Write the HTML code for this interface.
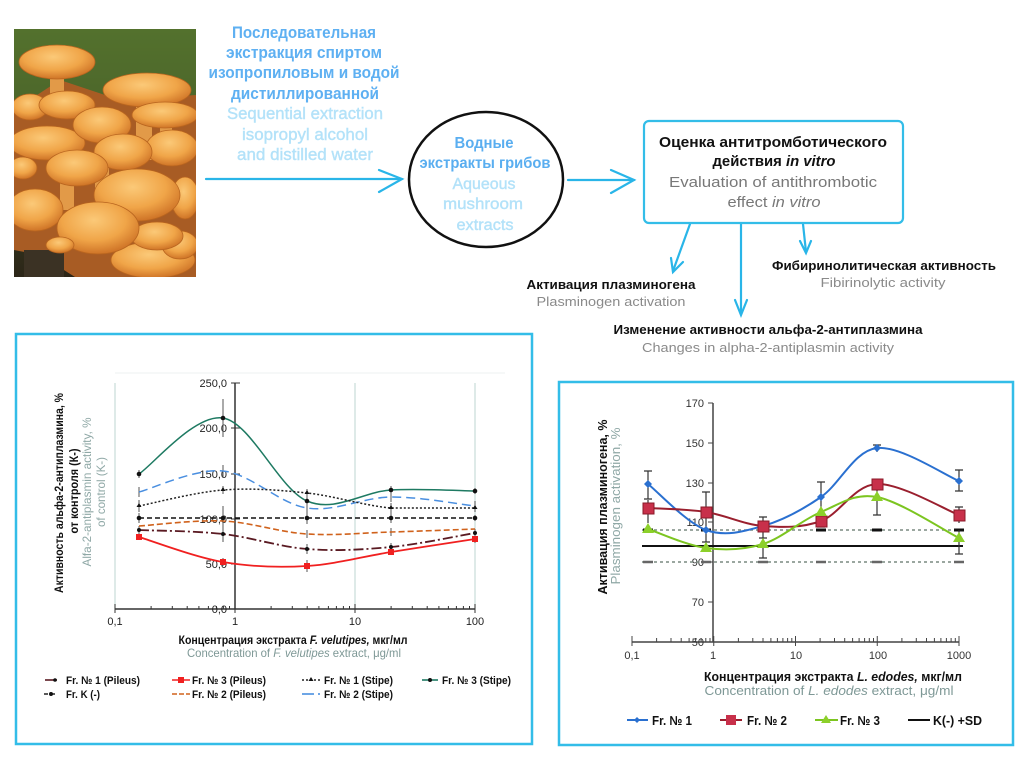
<!DOCTYPE html>
<html><head><meta charset="utf-8"><style>
html,body{margin:0;padding:0;background:#fff;}
body{width:1028px;height:767px;overflow:hidden;}
svg{display:block;}
text{font-family:"Liberation Sans","Noto Sans CJK SC",sans-serif;}
.ser{font-family:"Liberation Serif",serif;}
</style></head><body>
<svg width="1028" height="767" viewBox="0 0 1028 767" xmlns="http://www.w3.org/2000/svg">
<defs>
<radialGradient id="cap" cx="45%" cy="35%" r="65%">
<stop offset="0" stop-color="#fbc978"/><stop offset="0.6" stop-color="#f0a548"/><stop offset="1" stop-color="#cf7427"/>
</radialGradient>
<linearGradient id="bg" x1="0" y1="0" x2="0" y2="1">
<stop offset="0" stop-color="#4f6c2c"/><stop offset="0.35" stop-color="#3d4f24"/><stop offset="1" stop-color="#2c2618"/>
</linearGradient>
<clipPath id="ph"><rect x="14" y="29" width="182" height="248"/></clipPath>
</defs>

<!-- Photo -->
<g clip-path="url(#ph)">
<rect x="14" y="29" width="182" height="248" fill="url(#bg)"/>
<rect x="14" y="29" width="182" height="80" fill="#56752e" opacity="0.6"/>
<path d="M14 110 L60 80 L120 100 L196 95 L196 277 L75 277 L40 255 L14 250 Z" fill="#a85c24"/>
<rect x="24" y="250" width="40" height="27" fill="#3b3224"/>
<g fill="#e29a48">
<rect x="50" y="70" width="14" height="40"/><rect x="136" y="100" width="16" height="60"/>
<rect x="60" y="170" width="14" height="40"/><rect x="95" y="160" width="14" height="50"/><rect x="160" y="120" width="12" height="40"/>
</g>
<g fill="url(#cap)" stroke="#b8651f" stroke-width="0.8">
<ellipse cx="57" cy="62" rx="38" ry="17"/>
<ellipse cx="147" cy="90" rx="44" ry="17"/>
<ellipse cx="30" cy="107" rx="18" ry="13"/>
<ellipse cx="67" cy="105" rx="28" ry="14"/>
<ellipse cx="165" cy="115" rx="33" ry="13"/>
<ellipse cx="23" cy="168" rx="14" ry="11"/>
<ellipse cx="47" cy="143" rx="38" ry="17"/>
<ellipse cx="102" cy="125" rx="29" ry="18"/>
<ellipse cx="172" cy="148" rx="26" ry="18"/>
<ellipse cx="123" cy="152" rx="29" ry="18"/>
<ellipse cx="77" cy="168" rx="31" ry="18"/>
<ellipse cx="185" cy="198" rx="14" ry="21"/>
<ellipse cx="35" cy="210" rx="28" ry="21"/>
<ellipse cx="153" cy="260" rx="42" ry="18"/>
<ellipse cx="180" cy="245" rx="18" ry="14"/>
<ellipse cx="137" cy="195" rx="43" ry="26"/>
<ellipse cx="157" cy="236" rx="26" ry="14"/>
<ellipse cx="98" cy="228" rx="41" ry="26"/>
<ellipse cx="60" cy="245" rx="14" ry="8"/>
</g>
</g>

<!-- Top flow text -->
<g font-weight="bold" font-size="17" fill="#5eb0f2" text-anchor="middle">
<text x="304" y="38" textLength="144" lengthAdjust="spacingAndGlyphs">Последовательная</text>
<text x="304" y="58" textLength="156" lengthAdjust="spacingAndGlyphs">экстракция спиртом</text>
<text x="304" y="78" textLength="191" lengthAdjust="spacingAndGlyphs">изопропиловым и водой</text>
<text x="305" y="99" textLength="148" lengthAdjust="spacingAndGlyphs">дистиллированной</text>
</g>
<g font-size="17" fill="#b3e2f9" text-anchor="middle" stroke="#b3e2f9" stroke-width="0.4">
<text x="305" y="119" textLength="156" lengthAdjust="spacingAndGlyphs">Sequential extraction</text>
<text x="305" y="140" textLength="126" lengthAdjust="spacingAndGlyphs">isopropyl alcohol</text>
<text x="305" y="160" textLength="136" lengthAdjust="spacingAndGlyphs">and distilled water</text>
</g>

<!-- arrows -->
<g stroke="#29b5e8" stroke-width="2.2" fill="none" stroke-linecap="round">
<line x1="206" y1="179" x2="402" y2="179"/>
<polyline points="379,170 402,179 379,192"/>
<line x1="568" y1="180" x2="634" y2="180"/>
<polyline points="611,170 634,180 611,193"/>
<line x1="690" y1="224" x2="673" y2="271"/>
<polyline points="671,258 673,272 683,262"/>
<line x1="741" y1="224" x2="741" y2="314"/>
<polyline points="735,300 741,315 747,300"/>
<line x1="803" y1="224" x2="806" y2="252"/>
<polyline points="800,241 806,253 811,241"/>
</g>

<!-- ellipse -->
<ellipse cx="486" cy="179.5" rx="77" ry="67.5" fill="none" stroke="#111" stroke-width="2.5"/>
<g font-weight="bold" font-size="16" fill="#5aaef0" text-anchor="middle">
<text x="484" y="148" textLength="59" lengthAdjust="spacingAndGlyphs">Водные</text>
<text x="485" y="168" textLength="131" lengthAdjust="spacingAndGlyphs">экстракты грибов</text>
</g>
<g font-size="16" fill="#b3e2f9" text-anchor="middle" stroke="#b3e2f9" stroke-width="0.4">
<text x="484" y="189" textLength="63" lengthAdjust="spacingAndGlyphs">Aqueous</text>
<text x="483" y="209" textLength="80" lengthAdjust="spacingAndGlyphs">mushroom</text>
<text x="485" y="230" textLength="57" lengthAdjust="spacingAndGlyphs">extracts</text>
</g>

<!-- box -->
<rect x="644" y="121" width="259" height="102" rx="5" fill="none" stroke="#33bde8" stroke-width="2.2"/>
<g font-size="15" text-anchor="middle">
<text x="773" y="147" font-weight="bold" fill="#111" textLength="228" lengthAdjust="spacingAndGlyphs">Оценка антитромботического</text>
<text x="774" y="166" font-weight="bold" fill="#111" textLength="123" lengthAdjust="spacingAndGlyphs">действия <tspan font-style="italic">in vitro</tspan></text>
<text x="773" y="187" fill="#787878" textLength="208" lengthAdjust="spacingAndGlyphs">Evaluation of antithrombotic</text>
<text x="774" y="207" fill="#787878" textLength="93" lengthAdjust="spacingAndGlyphs">effect <tspan font-style="italic">in vitro</tspan></text>
</g>

<g font-size="13" text-anchor="middle">
<text x="884" y="270" font-weight="bold" fill="#111" textLength="224" lengthAdjust="spacingAndGlyphs">Фибиринолитическая активность</text>
<text x="883" y="287" fill="#8a8a8a" textLength="125" lengthAdjust="spacingAndGlyphs">Fibirinolytic activity</text>
<text x="611" y="289" font-weight="bold" fill="#111" textLength="169" lengthAdjust="spacingAndGlyphs">Активация плазминогена</text>
<text x="611" y="306" fill="#8a8a8a" textLength="149" lengthAdjust="spacingAndGlyphs">Plasminogen activation</text>
<text x="768" y="334" font-weight="bold" fill="#111" textLength="309" lengthAdjust="spacingAndGlyphs">Изменение активности альфа-2-антиплазмина</text>
<text x="768" y="352" fill="#8a8a8a" textLength="252" lengthAdjust="spacingAndGlyphs">Changes in alpha-2-antiplasmin activity</text>
</g>

<!-- ============ LEFT CHART ============ -->
<rect x="16" y="334" width="516" height="410" fill="none" stroke="#33bde8" stroke-width="2.5"/>
<line x1="115" y1="373" x2="505" y2="373" stroke="#eef2f2" stroke-width="1"/>
<g stroke="#c9dcd8" stroke-width="1.2">
<line x1="115" y1="383" x2="115" y2="609"/>
<line x1="355" y1="383" x2="355" y2="609"/>
<line x1="475" y1="383" x2="475" y2="609"/>
</g>
<!-- axes -->
<g stroke="#333" stroke-width="1.5">
<line x1="115" y1="609" x2="475" y2="609"/>
<line x1="235" y1="383" x2="235" y2="609"/>
</g>
<g stroke="#333" stroke-width="1">
<line x1="231" y1="383" x2="240" y2="383"/><line x1="231" y1="428" x2="240" y2="428"/><line x1="231" y1="474" x2="240" y2="474"/>
<line x1="231" y1="519" x2="240" y2="519"/><line x1="231" y1="564" x2="240" y2="564"/>
<line x1="115" y1="604" x2="115" y2="613"/><line x1="235" y1="604" x2="235" y2="613"/><line x1="355" y1="604" x2="355" y2="613"/><line x1="475" y1="604" x2="475" y2="613"/>
<path d="M151.1 606V609M172.3 606V609M187.2 606V609M198.9 606V609M208.4 606V609M216.4 606V609M223.4 606V609M229.5 606V609
M271.1 606V609M292.3 606V609M307.2 606V609M318.9 606V609M328.4 606V609M336.4 606V609M343.4 606V609M349.5 606V609
M391.1 606V609M412.3 606V609M427.2 606V609M438.9 606V609M448.4 606V609M456.4 606V609M463.4 606V609M469.5 606V609"/>
</g>
<g class="ser" font-size="11" fill="#222" text-anchor="end">
<text x="227" y="387">250,0</text><text x="227" y="432">200,0</text><text x="227" y="478">150,0</text>
<text x="227" y="523">100,0</text><text x="227" y="568">50,0</text><text x="227" y="613">0,0</text>
</g>
<g class="ser" font-size="11" fill="#222" text-anchor="middle">
<text x="115" y="625">0,1</text><text x="235" y="625">1</text><text x="355" y="625">10</text><text x="475" y="625">100</text>
</g>

<!-- error bars left -->
<g stroke="#555" stroke-width="1">
<path d="M139 470V478M223 399V437M307 494V508M391 486V494M475 488V494
M139 487V497M223 465V477M307 502V514M391 492V502M475 501V511
M139 500V512M223 486V494M307 489V497M391 503V513M475 504V512
M139 513V523M223 506V530M307 512V524M391 513V523M475 515V521
M223 516V526M307 530V538M391 528V536
M139 526V534M223 526V542M307 544V554M391 543V551M475 529V537
M139 534V540M223 558V566M307 560V572M391 549V555M475 535V543"/>
</g>

<!-- series left -->
<g fill="none">
<path d="M139 474C153 464.7 195 413.5 223 418C251 422.5 279 489 307 501C335 513 363 491.7 391 490C419 488.3 461 490.8 475 491" stroke="#1e7a62" stroke-width="1.5"/>
<path d="M139 492C153 488.5 195 468.3 223 471C251 473.7 279 503.7 307 508C335 512.3 363 497.3 391 497C419 496.7 461 504.5 475 506" stroke="#4a8fe0" stroke-width="1.5" stroke-dasharray="9,5"/>
<path d="M139 506C153 503.3 195 492.2 223 490C251 487.8 279 490 307 493C335 496 363 505.5 391 508C419 508 461 508 475 508" stroke="#222" stroke-width="1.5" stroke-dasharray="2,2"/>
<line x1="139" y1="518" x2="475" y2="518" stroke="#111" stroke-width="1.6" stroke-dasharray="5,3"/>
<path d="M139 526C153 525.2 195 519.7 223 521C251 522.3 279 532.2 307 534C335 535.8 363 532.8 391 532C419 531.2 461 529.5 475 529" stroke="#d0621c" stroke-width="1.6" stroke-dasharray="6,3"/>
<path d="M139 530C153 530.7 195 530.8 223 534C251 537.2 279 546.8 307 549C335 551.2 363 549.7 391 547C419 544.3 461 535.3 475 533" stroke="#5a1a22" stroke-width="1.8" stroke-dasharray="10,3,2,3"/>
<path d="M139 537C153 541.2 195 557.2 223 562C251 566.8 279 567.7 307 566C335 564.3 363 556.5 391 552C419 547.5 461 541.2 475 539" stroke="#f02020" stroke-width="1.8"/>
</g>
<g fill="#111">
<circle cx="139" cy="474" r="2.3"/><circle cx="223" cy="418" r="2.3"/><circle cx="307" cy="501" r="2.3"/><circle cx="391" cy="490" r="2.3"/><circle cx="475" cy="491" r="2.3"/>
<path d="M139 503l2.5 4h-5zM223 487l2.5 4h-5zM307 490l2.5 4h-5zM391 505l2.5 4h-5zM475 505l2.5 4h-5z"/>
<circle cx="139" cy="518" r="2.3"/><circle cx="223" cy="518" r="2.3"/><circle cx="307" cy="518" r="2.3"/><circle cx="391" cy="518" r="2.3"/><circle cx="475" cy="518" r="2.3"/>
<circle cx="139" cy="530" r="2"/><circle cx="223" cy="534" r="2"/><circle cx="307" cy="549" r="2"/><circle cx="391" cy="547" r="2"/><circle cx="475" cy="533" r="2"/>
</g>
<g fill="#f02020">
<rect x="136" y="534" width="6" height="6"/><rect x="220" y="559" width="6" height="6"/><rect x="304" y="563" width="6" height="6"/><rect x="388" y="549" width="6" height="6"/><rect x="472" y="536" width="6" height="6"/>
</g>

<!-- left titles -->
<g font-weight="bold" font-size="12" fill="#111" text-anchor="middle">
<text transform="translate(63,493) rotate(-90)" textLength="200" lengthAdjust="spacingAndGlyphs">Активность альфа-2-антиплазмина, %</text>
<text transform="translate(78,491) rotate(-90)" textLength="85" lengthAdjust="spacingAndGlyphs">от контроля (К-)</text>
</g>
<g font-size="12" fill="#8fa8a6" text-anchor="middle">
<text transform="translate(91,492) rotate(-90)" textLength="149" lengthAdjust="spacingAndGlyphs">Alfa-2-antiplasmin activity, %</text>
<text transform="translate(105,492) rotate(-90)" textLength="70" lengthAdjust="spacingAndGlyphs">of control (K-)</text>
</g>
<text x="293" y="644" font-weight="bold" font-size="12" fill="#111" text-anchor="middle" textLength="229" lengthAdjust="spacingAndGlyphs">Концентрация экстракта <tspan font-style="italic">F. velutipes,</tspan> мкг/мл</text>
<text x="294" y="657" font-size="12" fill="#7e9896" text-anchor="middle" textLength="214" lengthAdjust="spacingAndGlyphs">Concentration of <tspan font-style="italic">F. velutipes</tspan> extract, μg/ml</text>

<!-- left legend -->
<g fill="none" stroke-width="1.6">
<line x1="45" y1="680" x2="57" y2="680" stroke="#5a1a22"/>
<line x1="172" y1="680" x2="190" y2="680" stroke="#f02020"/>
<line x1="302" y1="680" x2="320" y2="680" stroke="#222" stroke-dasharray="2,2"/>
<line x1="422" y1="680" x2="438" y2="680" stroke="#1e7a62"/>
<line x1="44" y1="694" x2="58" y2="694" stroke="#222" stroke-dasharray="4,3"/>
<line x1="172" y1="694" x2="190" y2="694" stroke="#d0621c" stroke-dasharray="5,2"/>
<line x1="302" y1="694" x2="314" y2="694" stroke="#4a8fe0"/>
<line x1="318" y1="694" x2="320" y2="694" stroke="#4a8fe0"/>
</g>
<circle cx="55" cy="680" r="1.8" fill="#111"/>
<rect x="178" y="677" width="6" height="6" fill="#f02020"/>
<path d="M311 677l2.5 4h-5z" fill="#111"/>
<circle cx="430" cy="680" r="2" fill="#111"/>
<circle cx="51" cy="694" r="2" fill="#111"/>
<g font-weight="bold" font-size="11" fill="#111">
<text x="66" y="684" textLength="74" lengthAdjust="spacingAndGlyphs">Fr. № 1 (Pileus)</text>
<text x="192" y="684" textLength="74" lengthAdjust="spacingAndGlyphs">Fr. № 3 (Pileus)</text>
<text x="324" y="684" textLength="69" lengthAdjust="spacingAndGlyphs">Fr. № 1 (Stipe)</text>
<text x="442" y="684" textLength="69" lengthAdjust="spacingAndGlyphs">Fr. № 3 (Stipe)</text>
<text x="66" y="698" textLength="34" lengthAdjust="spacingAndGlyphs">Fr. K (-)</text>
<text x="192" y="698" textLength="74" lengthAdjust="spacingAndGlyphs">Fr. № 2 (Pileus)</text>
<text x="324" y="698" textLength="69" lengthAdjust="spacingAndGlyphs">Fr. № 2 (Stipe)</text>
</g>

<!-- ============ RIGHT CHART ============ -->
<rect x="559" y="382" width="454" height="363" fill="none" stroke="#33bde8" stroke-width="2.5"/>
<g stroke="#444" stroke-width="1.5">
<line x1="632" y1="642" x2="959" y2="642"/>
<line x1="713" y1="403" x2="713" y2="642"/>
</g>
<g stroke="#444" stroke-width="1">
<path d="M708 403H713M708 443H713M708 483H713M708 522H713M708 562H713M708 602H713M708 642H713"/>
<path d="M632 636V646M713.75 636V646M795.5 636V646M877.25 636V646M959 636V646"/>
<path d="M656.6 638V642M671 638V642M681.2 638V642M689.1 638V642M695.6 638V642M701.1 638V642M705.8 638V642M710 638V642
M738.4 638V642M752.8 638V642M763 638V642M770.9 638V642M777.4 638V642M782.9 638V642M787.6 638V642M791.8 638V642
M820.1 638V642M834.5 638V642M844.7 638V642M852.6 638V642M859.1 638V642M864.6 638V642M869.3 638V642M873.5 638V642
M901.9 638V642M916.3 638V642M926.5 638V642M934.4 638V642M940.9 638V642M946.4 638V642M951.1 638V642M955.3 638V642"/>
</g>
<g font-size="11" fill="#333" text-anchor="end" class="ser">
<text x="704" y="407">170</text><text x="704" y="447">150</text><text x="704" y="487">130</text>
<text x="704" y="526">110</text><text x="704" y="566">90</text><text x="704" y="606">70</text><text x="704" y="646">50</text>
</g>
<g font-size="11" fill="#333" text-anchor="middle" class="ser">
<text x="632" y="659">0,1</text><text x="713" y="659">1</text><text x="796" y="659">10</text><text x="878" y="659">100</text><text x="959" y="659">1000</text>
</g>

<!-- K lines -->
<g fill="none">
<line x1="642" y1="530" x2="963" y2="530" stroke="#7a8a80" stroke-width="1.5" stroke-dasharray="3,3"/>
<line x1="642" y1="562" x2="963" y2="562" stroke="#7a8a80" stroke-width="1.5" stroke-dasharray="3,3"/>
<line x1="642" y1="546" x2="963" y2="546" stroke="#111" stroke-width="2"/>
</g>
<g stroke="#111" stroke-width="3">
<path d="M643 530H653M701 530H711M758 530H768M816 530H826M872 530H882M954 530H964"/>
</g>
<g stroke="#666" stroke-width="2.5">
<path d="M643 562H653M701 562H711M758 562H768M816 562H826M872 562H882M954 562H964"/>
</g>

<!-- error bars right -->
<g stroke="#333" stroke-width="1.2">
<path d="M648 471V499M644 471H652M644 499H652
M706 492V542M702 492H710M702 542H710
M763 517V538M759 517H767M759 538H767
M821 482V527M817 482H825M817 527H825
M877 445V452M873 445H881
M959 470V491M955 470H963M955 491H963
M648 500V523M706 505V520M877 480V488M959 507V523M955 507H963
M706 543V552M763 532V558M759 558H767M877 488V515M873 515H881M959 530V554M955 554H963"/>
</g>

<g fill="none" stroke-width="2">
<path d="M648 484C657.7 491.7 686.8 523 706 530C725.2 537 743.8 531.5 763 526C782.2 520.5 802 510 821 497C840 484 854 450.7 877 448C900 445.3 945.3 475.5 959 481" stroke="#2a70d0"/>
<path d="M648 508C657.7 508.7 686.8 509 706 512C725.2 515 743.8 524.5 763 526C782.2 527.5 802 528 821 521C840 514 854 485 877 484C900 483 945.3 509.8 959 515" stroke="#9a1f2e"/>
<path d="M648 529C657.7 532.2 686.8 545.5 706 548C725.2 550.5 743.8 550 763 544C782.2 538 802 519.8 821 512C840 504.2 854 492.7 877 497C900 501.3 945.3 531.2 959 538" stroke="#7cc520"/>
</g>
<!-- markers -->
<g fill="#2a70d0">
<path d="M648 480l4 4l-4 4l-4-4z"/><path d="M706 526l4 4l-4 4l-4-4z"/><path d="M763 522l4 4l-4 4l-4-4z"/><path d="M821 493l4 4l-4 4l-4-4z"/><path d="M877 444l4 4l-4 4l-4-4z"/><path d="M959 477l4 4l-4 4l-4-4z"/>
</g>
<g fill="#c8304a" stroke="#8a1a28" stroke-width="1">
<rect x="643" y="503" width="11" height="11"/><rect x="701" y="507" width="11" height="11"/><rect x="758" y="521" width="11" height="11"/><rect x="816" y="516" width="11" height="11"/><rect x="872" y="479" width="11" height="11"/><rect x="954" y="510" width="11" height="11"/>
</g>
<g fill="#8cd02a">
<path d="M648 523l6 10h-12z"/><path d="M706 542l6 10h-12z"/><path d="M763 538l6 10h-12z"/><path d="M821 506l6 10h-12z"/><path d="M877 491l6 10h-12z"/><path d="M959 532l6 10h-12z"/>
</g>

<!-- right titles -->
<text transform="translate(607,507) rotate(-90)" font-weight="bold" font-size="13" fill="#111" text-anchor="middle" textLength="175" lengthAdjust="spacingAndGlyphs">Активация плазминогена, %</text>
<text transform="translate(620,506) rotate(-90)" font-size="13" fill="#8fa8a6" text-anchor="middle" textLength="157" lengthAdjust="spacingAndGlyphs">Plasminogen activation, %</text>
<text x="833" y="681" font-weight="bold" font-size="13" fill="#111" text-anchor="middle" textLength="258" lengthAdjust="spacingAndGlyphs">Концентрация экстракта <tspan font-style="italic">L. edodes,</tspan> мкг/мл</text>
<text x="829" y="695" font-size="13" fill="#7e9896" text-anchor="middle" textLength="249" lengthAdjust="spacingAndGlyphs">Concentration of <tspan font-style="italic">L. edodes</tspan> extract, μg/ml</text>

<!-- right legend -->
<line x1="627" y1="720" x2="648" y2="720" stroke="#2a70d0" stroke-width="2"/>
<path d="M637 717l3 3l-3 3l-3-3z" fill="#2a70d0"/>
<line x1="720" y1="720" x2="742" y2="720" stroke="#9a1f2e" stroke-width="2"/>
<rect x="726" y="715" width="10" height="10" fill="#c8304a"/>
<line x1="815" y1="720" x2="838" y2="720" stroke="#7cc520" stroke-width="2"/>
<path d="M826 715l5 8h-10z" fill="#8cd02a"/>
<line x1="908" y1="720" x2="930" y2="720" stroke="#111" stroke-width="2"/>
<g font-weight="bold" font-size="13" fill="#111">
<text x="652" y="725" textLength="40" lengthAdjust="spacingAndGlyphs">Fr. № 1</text>
<text x="747" y="725" textLength="40" lengthAdjust="spacingAndGlyphs">Fr. № 2</text>
<text x="840" y="725" textLength="40" lengthAdjust="spacingAndGlyphs">Fr. № 3</text>
<text x="933" y="725" textLength="49" lengthAdjust="spacingAndGlyphs">K(-) +SD</text>
</g>
</svg>
</body></html>
